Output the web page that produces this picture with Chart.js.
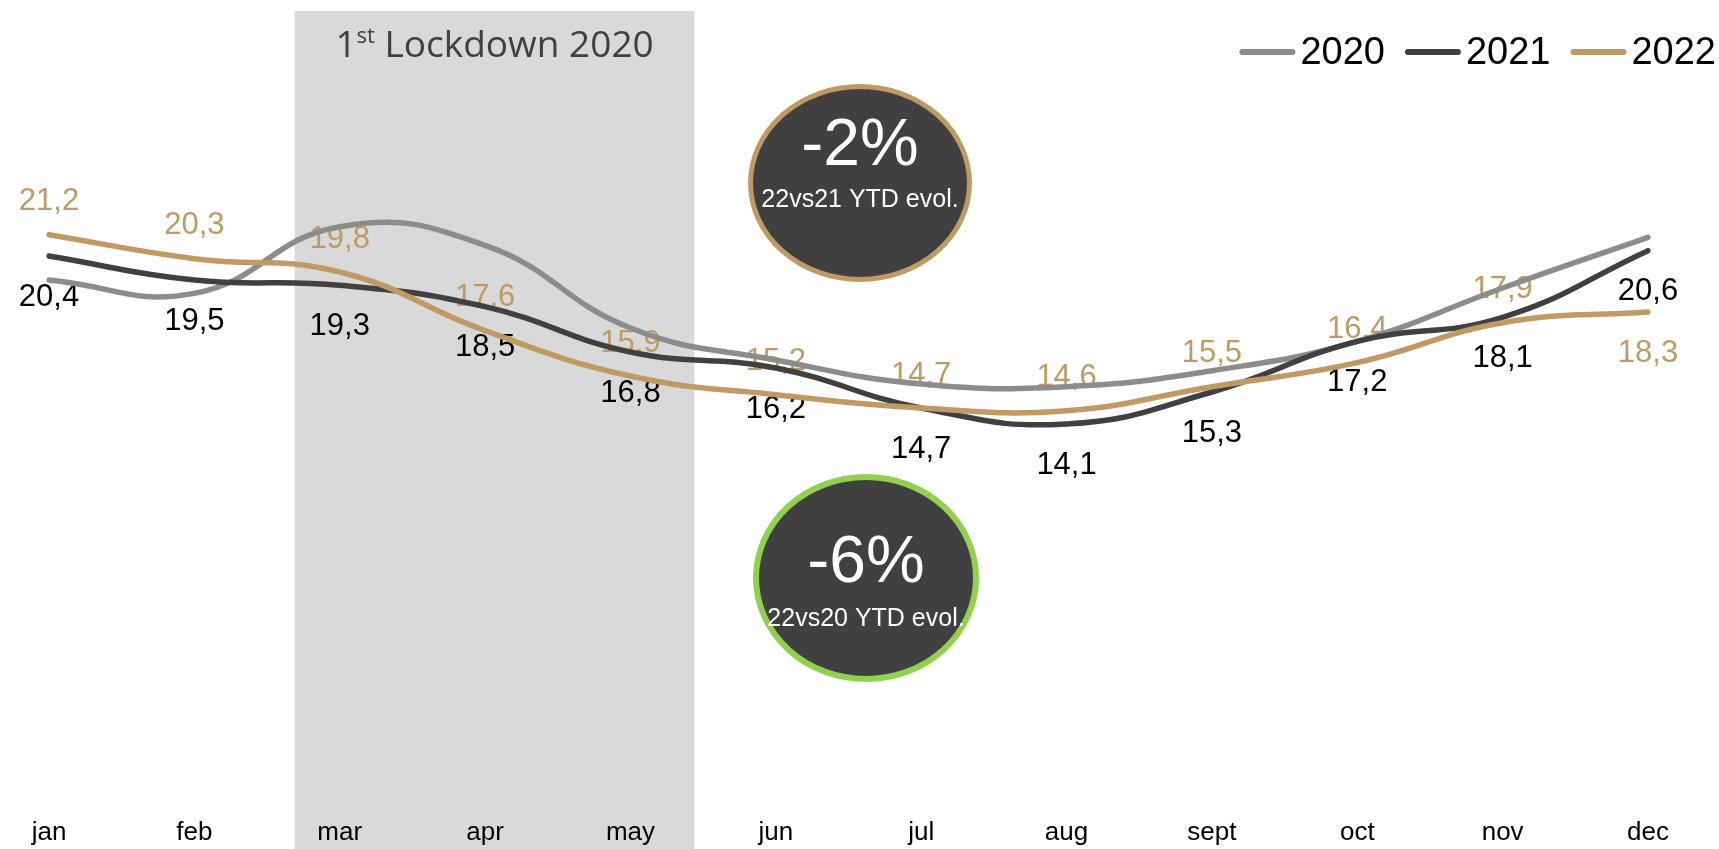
<!DOCTYPE html>
<html><head><meta charset="utf-8">
<script src="https://cdn.jsdelivr.net/npm/chart.js@4.4.0/dist/chart.umd.min.js"></script>
<style>html,body{margin:0;padding:0;background:#fff;overflow:hidden}#wrap{width:1719px;height:849px;position:relative}canvas{display:block}</style>
</head><body><div id="wrap"><canvas id="c" width="1719" height="849" style="width:1719px;height:849px"></canvas></div>
<script>
// ---- data ----
const months = ['jan','feb','mar','apr','may','jun','jul','aug','sept','oct','nov','dec'];
const seriesNames = ['2020','2021','2022'];
const values2020 = [19.5,19.0,21.5,20.8,17.7,16.5,15.6,15.5,16.1,17.2,19.2,21.1];
const values2021 = [20.4,19.5,19.3,18.5,16.8,16.2,14.7,14.1,15.3,17.2,18.1,20.6];
const values2022 = [21.2,20.3,19.8,17.6,15.9,15.2,14.7,14.6,15.5,16.4,17.9,18.3];
const labelSide2021 = ['below','below','below','below','below','below','below','below','below','below','below','below'];
const labelSide2022 = ['above','above','above','above','above','above','above','above','above','above','above','below'];
const yMin = 0, yMax = 30;
const lockdownSpan = [1.69, 4.44];   // category index range of the shaded box
const badges = [
  {big:'-2%', small:'22vs21 YTD evol.', ring:'#BF9A63'},
  {big:'-6%', small:'22vs20 YTD evol.', ring:'#92D050'}
];

const C2020 = '#8C8C8C', C2021 = '#404040', C2022 = '#BF9A63';
const FONT = '"Liberation Sans", Arial, sans-serif';

function fmt(v){ return v.toFixed(1).replace('.', ','); }

const overlay = {
  id: 'overlay',
  beforeDraw(chart) {
    const {ctx} = chart, xs = chart.scales.x;
    const x0 = xs.getPixelForValue(lockdownSpan[0]);
    const x1 = xs.getPixelForValue(lockdownSpan[1]);
    ctx.save();
    ctx.fillStyle = '#fff';
    ctx.fillRect(0, 0, chart.width, chart.height);
    ctx.fillStyle = '#D9D9D9';
    ctx.fillRect(x0, 11, x1 - x0, chart.height - 11);
    // title with superscript
    ctx.fillStyle = '#404040';
    ctx.textBaseline = 'alphabetic';
    const fBig = '37px "Open Sans", sans-serif', fSup = '22px "Open Sans", sans-serif';
    ctx.font = fBig; const w1 = ctx.measureText('1').width; const w3 = ctx.measureText(' Lockdown 2020').width;
    ctx.font = fSup; const w2 = ctx.measureText('st').width;
    let x = (x0 + x1) / 2 - (w1 + w2 + w3) / 2;
    const base = 57;
    ctx.textAlign = 'left';
    ctx.font = fBig; ctx.fillText('1', x, base); x += w1;
    ctx.font = fSup; ctx.fillText('st', x, base - 14); x += w2;
    ctx.font = fBig; ctx.fillText(' Lockdown 2020', x, base);
    ctx.restore();
  },
  beforeDatasetsDraw(chart) {
    const {ctx} = chart;
    ctx.save();
    ctx.font = '31px ' + FONT;
    ctx.textAlign = 'center';
    ctx.textBaseline = 'middle';
    chart.data.datasets.forEach((ds, i) => {
      if (!ds.labelSide) return;
      const meta = chart.getDatasetMeta(i);
      ctx.fillStyle = ds.labelColor;
      meta.data.forEach((pt, j) => {
        const side = ds.labelSide[j];
        const y = side === 'above' ? pt.y - 33 : pt.y + 41;
        ctx.fillText(fmt(ds.data[j]), pt.x, y);
      });
    });
    ctx.restore();
  },
  afterDraw(chart) {
    const {ctx} = chart;
    ctx.save();
    // legend (top right)
    ctx.font = '38px ' + FONT;
    ctx.textBaseline = 'alphabetic';
    ctx.textAlign = 'left';
    const dsets = chart.data.datasets;
    const lineLen = 56, gapText = 5, gapItem = 20;
    let widths = dsets.map(d => ctx.measureText(d.label).width);
    let total = widths.reduce((a,b)=>a+b,0) + dsets.length*(lineLen+gapText) + (dsets.length-1)*gapItem;
    let x = 1716 - total;
    dsets.forEach((d, i) => {
      ctx.strokeStyle = d.borderColor; ctx.lineWidth = 6; ctx.lineCap = 'round';
      ctx.beginPath(); ctx.moveTo(x + 3, 52); ctx.lineTo(x + lineLen - 3, 52); ctx.stroke();
      x += lineLen + gapText;
      ctx.fillStyle = '#000';
      ctx.fillText(d.label, x, 64);
      x += widths[i] + gapItem;
    });
    // badges
    const geo = [{cx:860, cy:183, rx:112, ry:99, lw:5, by:165, sy:207},
                 {cx:866, cy:578, rx:113, ry:104, lw:6, by:582, sy:626}];
    badges.forEach((b, i) => {
      const g = geo[i];
      ctx.beginPath();
      ctx.ellipse(g.cx, g.cy, g.rx - g.lw/2, g.ry - g.lw/2, 0, 0, Math.PI*2);
      ctx.fillStyle = '#404040'; ctx.fill();
      ctx.lineWidth = g.lw; ctx.strokeStyle = b.ring; ctx.stroke();
      ctx.fillStyle = '#fff'; ctx.textAlign = 'center'; ctx.textBaseline = 'alphabetic';
      ctx.font = '66px ' + FONT; ctx.fillText(b.big, g.cx, g.by);
      ctx.font = '25px ' + FONT; ctx.fillText(b.small, g.cx, g.sy);
    });
    ctx.restore();
  }
};

const common = {fill:false, borderWidth:5.5, pointRadius:0, pointHoverRadius:0, tension:0.45, borderCapStyle:'round', borderJoinStyle:'round'};

new Chart(document.getElementById('c'), {
  type: 'line',
  data: {
    labels: months,
    datasets: [
      Object.assign({label: seriesNames[0], data: values2020, borderColor: C2020, order: 3}, common),
      Object.assign({label: seriesNames[1], data: values2021, borderColor: C2021, order: 2, labelSide: labelSide2021, labelColor: '#000'}, common),
      Object.assign({label: seriesNames[2], data: values2022, borderColor: C2022, order: 1, labelSide: labelSide2022, labelColor: C2022}, common)
    ]
  },
  options: {
    responsive: false,
    maintainAspectRatio: false,
    animation: false,
    devicePixelRatio: 1,
    layout: {padding: {left: 49, right: 71, top: 0, bottom: 0}},
    plugins: {legend: {display: false}, tooltip: {enabled: false}},
    scales: {
      x: {
        offset: false,
        grid: {display: false, drawTicks: false},
        border: {display: false},
        ticks: {color: '#000', font: {family: FONT, size: 26}, padding: 17, maxRotation: 0, autoSkip: false},
        afterFit: (scale) => { scale.height = 49; }
      },
      y: {display: false, min: yMin, max: yMax}
    }
  },
  plugins: [overlay]
});
</script></body></html>
